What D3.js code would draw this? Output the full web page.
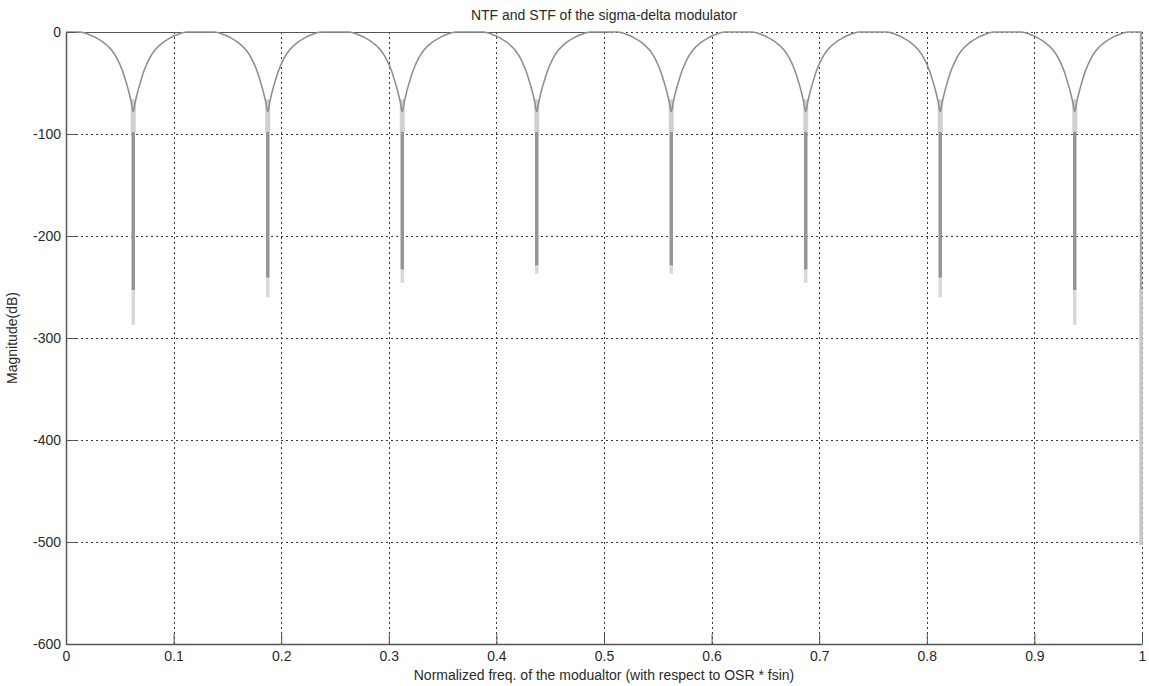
<!DOCTYPE html>
<html>
<head>
<meta charset="utf-8">
<script src="https://cdn.jsdelivr.net/npm/d3@7"></script>
<style>
  body { margin: 0; background: #fff; }
  text { font-family: "Liberation Sans", Arial, sans-serif; fill: #2a2a2a; }
</style>
</head>
<body>
<svg id="chart"></svg>
<script>
const width = 1149;
const height = 686;

// Data
const xTicks = [0, 0.1, 0.2, 0.3, 0.4, 0.5, 0.6, 0.7, 0.8, 0.9, 1];
const yTicks = [0, -100, -200, -300, -400, -500, -600];

// notch positions (normalized freq)
const notchFreq = [0.0625, 0.1875, 0.3125, 0.4375, 0.5625, 0.6875, 0.8125, 0.9375];
// where the dark part of each spike ends, and where the faint tail ends (dB)
const notchCore = [-253, -241, -233, -229, -229, -233, -241, -253];
const notchTail = [-287, -260, -246, -237, -237, -246, -260, -287];

// half-lobe shape: distance from notch vs magnitude (dB), clipped at 0
const lobeDist = [0, 0.002, 0.004, 0.0067, 0.010, 0.015, 0.020, 0.028, 0.034, 0.040, 0.045, 0.050, 0.0625];
const lobeDb   = [-78, -68, -59, -49, -38, -26, -18, -10, -6, -3, -1, 0, 0];

// spike at f = 1
const edgeCore = -253;
const edgeTail = -503;

const margin = { left: 66, right: 7, top: 32, bottom: 42 };

const x = d3.scaleLinear().domain([0, 1]).range([margin.left, width - margin.right]);
const y = d3.scaleLinear().domain([-600, 0]).range([height - margin.bottom, margin.top]);

// build curve points from the lobes
const curve = [];
notchFreq.forEach((c, i) => {
  const left = [];
  for (let k = lobeDist.length - 1; k >= 0; k--) {
    if (i > 0 && k === lobeDist.length - 1) continue; // shared peak
    left.push([c - lobeDist[k], lobeDb[k]]);
  }
  const right = [];
  for (let k = 1; k < lobeDist.length; k++) right.push([c + lobeDist[k], lobeDb[k]]);
  curve.push(...left, ...right);
});

const svg = d3.select("#chart")
  .attr("width", width)
  .attr("height", height)
  .style("background", "#fff");

// grid
const grid = svg.append("g").attr("stroke", "#3a3a3a").attr("stroke-width", 1)
  .attr("stroke-dasharray", "2,3");
grid.selectAll(".vg").data(xTicks.slice(1)).join("line")
  .attr("x1", d => Math.round(x(d)) + 0.5).attr("x2", d => Math.round(x(d)) + 0.5)
  .attr("y1", y(0)).attr("y2", y(-600));
grid.selectAll(".hg").data(yTicks.slice(0, -1)).join("line")
  .attr("y1", d => Math.round(y(d)) + 0.5).attr("y2", d => Math.round(y(d)) + 0.5)
  .attr("x1", x(0)).attr("x2", x(1));

// odd solid stretch at the top of the frame
svg.append("line")
  .attr("x1", x(0)).attr("x2", x(0.505))
  .attr("y1", Math.round(y(0)) + 0.5).attr("y2", Math.round(y(0)) + 0.5)
  .attr("stroke", "#555");

// spikes
const spikes = svg.append("g");
notchFreq.forEach((c, i) => {
  spikes.append("line")
    .attr("x1", x(c)).attr("x2", x(c))
    .attr("y1", y(-66)).attr("y2", y(-98))
    .attr("stroke", "#d0d0d0").attr("stroke-width", 5);
  spikes.append("line")
    .attr("x1", x(c)).attr("x2", x(c))
    .attr("y1", y(-98)).attr("y2", y(notchCore[i]))
    .attr("stroke", "#959595").attr("stroke-width", 3.5);
  spikes.append("line")
    .attr("x1", x(c)).attr("x2", x(c))
    .attr("y1", y(notchCore[i])).attr("y2", y(notchTail[i]))
    .attr("stroke", "#d8d8d8").attr("stroke-width", 3.5);
});
spikes.append("line")
  .attr("x1", x(1) - 1).attr("x2", x(1) - 1)
  .attr("y1", y(0)).attr("y2", y(edgeCore))
  .attr("stroke", "#aaa").attr("stroke-width", 2.5);
spikes.append("line")
  .attr("x1", x(1) - 1).attr("x2", x(1) - 1)
  .attr("y1", y(edgeCore)).attr("y2", y(edgeTail))
  .attr("stroke", "#c8c8c8").attr("stroke-width", 3.5);

// magnitude curve
const line = d3.line()
  .x(d => x(d[0]))
  .y(d => y(d[1]))
  .curve(d3.curveMonotoneX);

svg.append("path")
  .datum(curve)
  .attr("fill", "none")
  .attr("stroke", "#909090")
  .attr("stroke-width", 1.6)
  .attr("d", line);

// axes (ticks point inward, no box on top/right)
const xAxis = d3.axisBottom(x).tickValues(xTicks).tickFormat(d => String(d))
  .tickSizeInner(-10).tickSizeOuter(0).tickPadding(7);
const yAxis = d3.axisLeft(y).tickValues(yTicks).tickFormat(d => String(d))
  .tickSizeInner(-10).tickSizeOuter(0).tickPadding(5);

const gx = svg.append("g").attr("transform", `translate(0,${y(-600)})`).call(xAxis);
const gy = svg.append("g").attr("transform", `translate(${x(0)},0)`).call(yAxis);

[gx, gy].forEach(g => {
  g.select(".domain").attr("stroke", "#555").attr("stroke-width", 1.5);
  g.selectAll(".tick line").attr("stroke", "#555");
  g.selectAll(".tick text")
    .attr("font-size", 14)
    .attr("font-family", "Liberation Sans, Arial, sans-serif")
    .attr("fill", "#333");
});

// labels
svg.append("text")
  .attr("x", (x(0) + x(1)) / 2).attr("y", 20)
  .attr("text-anchor", "middle").attr("font-size", 14)
  .text("NTF and STF of the sigma-delta modulator");

svg.append("text")
  .attr("x", (x(0) + x(1)) / 2).attr("y", 680)
  .attr("text-anchor", "middle").attr("font-size", 14)
  .text("Normalized freq. of the modualtor (with respect to OSR * fsin)");

svg.append("text")
  .attr("transform", `translate(17,${(y(0) + y(-600)) / 2}) rotate(-90)`)
  .attr("text-anchor", "middle").attr("font-size", 14)
  .text("Magnitude(dB)");
</script>
</body>
</html>
